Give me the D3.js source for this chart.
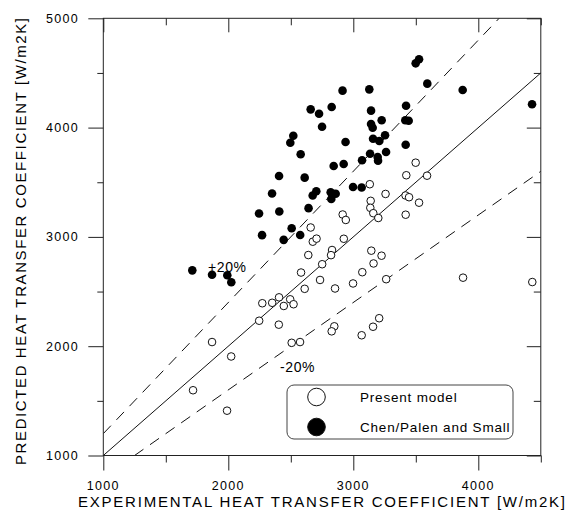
<!DOCTYPE html>
<html>
<head>
<meta charset="utf-8">
<script src="https://cdn.jsdelivr.net/npm/d3@7"></script>
<style>
  body { margin: 0; background: #fff; }
  text { font-family: "Liberation Sans", Arial, Helvetica, sans-serif; fill: #000; }
</style>
</head>
<body>
<svg id="chart" width="568" height="514"></svg>
<script>
// experimental vs predicted heat transfer coefficient [W/m2K]
var presentModel = [
  [3499, 3679], [3424, 3564], [3590, 3560], [3132, 3482], [3258, 3393], [3418, 3379],
  [3446, 3363], [3526, 3313], [3139, 3330], [3136, 3266], [3160, 3217], [3200, 3173],
  [3419, 3203], [2915, 3205], [2940, 3155], [2924, 2983], [2830, 2880], [2822, 2833],
  [2751, 2750], [3144, 2874], [3226, 2828], [3162, 2757], [3072, 2677], [2734, 2606],
  [2854, 2528], [2998, 2574], [3263, 2613], [3207, 2256], [3158, 2178], [3067, 2100],
  [3878, 2627], [4432, 2587], [2659, 3086], [2676, 2956], [2706, 2984], [2640, 2834],
  [2582, 2674], [2611, 2525], [2272, 2393], [2351, 2397], [2406, 2447], [2444, 2368],
  [2495, 2429], [2522, 2384], [2247, 2233], [2404, 2197], [2507, 2031], [2574, 2038],
  [2848, 2182], [2827, 2136], [1870, 2038], [2023, 1906], [1718, 1597], [1990, 1410]
];

var chenPalen = [
  [2914, 4338], [2659, 4167], [2726, 4127], [2827, 4188], [2750, 4008], [2520, 3926],
  [2496, 3862], [2938, 3868], [2579, 3756], [2843, 3649], [2923, 3667], [3070, 3701],
  [2406, 3557], [2611, 3542], [2350, 3397], [2704, 3418], [2675, 3379], [2819, 3408],
  [2859, 3395], [2824, 3347], [2998, 3457], [3067, 3452], [2246, 3214], [2408, 3232],
  [2642, 3263], [2507, 3079], [2270, 3016], [2575, 3017], [2443, 2973], [3128, 4350],
  [3526, 4625], [3499, 4588], [3592, 4402], [3875, 4344], [4430, 4213], [3142, 4155],
  [3227, 4067], [3422, 4200], [3416, 4067], [3443, 4063], [3142, 4033], [3155, 3999],
  [3158, 3898], [3208, 3877], [3254, 3930], [3419, 3843], [3134, 3761], [3195, 3731],
  [3198, 3697], [3262, 3777], [1712, 2694], [1870, 2654], [1992, 2649], [2024, 2585]
];

var xTicks = [1000, 2000, 3000, 4000];
var xMinor = [1500, 2500, 3500, 4500];
var yTicks = [1000, 2000, 3000, 4000, 5000];
var yMinor = [1500, 2500, 3500, 4500];

var bandFactors = [1, 1.2, 0.8];
var bandLabels = ["+20%", "-20%"];
var legendLabels = ["Present model", "Chen/Palen and Small"];

var svg = d3.select("#chart");

var padLeft = 103.3, padRight = 540.8, padTop = 18.3, padBottom = 455.5;

var x = d3.scaleLinear().domain([1000, 4500]).range([padLeft, padRight]);
var y = d3.scaleLinear().domain([1000, 5000]).range([padBottom, padTop]);

var plot = svg.append("g");

svg.append("clipPath").attr("id", "clip")
  .append("rect")
  .attr("x", padLeft).attr("y", padTop)
  .attr("width", padRight - padLeft).attr("height", padBottom - padTop);

// y = k*x reference lines
var lines = plot.append("g").attr("clip-path", "url(#clip)");
bandFactors.forEach(function(k, i) {
  lines.append("line")
    .attr("x1", x(1000)).attr("y1", y(1000 * k))
    .attr("x2", x(4500)).attr("y2", y(4500 * k))
    .attr("stroke", "#111")
    .attr("stroke-width", 1)
    .attr("stroke-dasharray", i == 0 ? null : "11,8");
});

// frame
var axisColor = "#222";
plot.append("rect")
  .attr("x", padLeft).attr("y", padTop)
  .attr("width", padRight - padLeft).attr("height", padBottom - padTop)
  .attr("fill", "none")
  .attr("stroke", axisColor)
  .attr("stroke-width", 1);

// ticks: outward on bottom/left, inward on top/right
var axes = [
  [d3.axisBottom(x).tickValues(xTicks).tickSize(15), 0, padBottom],
  [d3.axisBottom(x).tickValues(xMinor).tickSize(7), 0, padBottom],
  [d3.axisBottom(x).tickValues(xTicks).tickSize(14), 0, padTop],
  [d3.axisBottom(x).tickValues(xMinor).tickSize(7), 0, padTop],
  [d3.axisLeft(y).tickValues(yTicks).tickSize(15), padLeft, 0],
  [d3.axisLeft(y).tickValues(yMinor).tickSize(6), padLeft, 0],
  [d3.axisRight(y).tickValues(yTicks).tickSize(-14), padRight, 0],
  [d3.axisRight(y).tickValues(yMinor).tickSize(-7), padRight, 0]
];

axes.forEach(function(a) {
  var g = plot.append("g")
    .attr("transform", "translate(" + a[1] + "," + a[2] + ")")
    .call(a[0].tickFormat(""));
  g.select(".domain").remove();
  g.selectAll("line").attr("stroke", axisColor);
});

// top axis ticks go downward into the plot
plot.selectAll("g").filter(function() {
  return d3.select(this).attr("transform") == "translate(0," + padTop + ")";
}).selectAll(".tick line").attr("y2", function(d) { return xTicks.indexOf(d) >= 0 ? 14 : 7; });

// tick labels
plot.selectAll(".xlab")
  .data(xTicks)
  .enter().append("text")
  .attr("x", function(d) { return x(d); })
  .attr("y", 489.5)
  .attr("text-anchor", "middle")
  .attr("font-size", 12.5)
  .attr("letter-spacing", 1.3)
  .text(function(d) { return d; });

plot.selectAll(".ylab")
  .data(yTicks)
  .enter().append("text")
  .attr("x", 79)
  .attr("y", function(d) { return y(d) + 4.5; })
  .attr("text-anchor", "end")
  .attr("font-size", 12.5)
  .attr("letter-spacing", 1.3)
  .text(function(d) { return d; });

// axis titles
svg.append("text")
  .attr("x", 78).attr("y", 506.5)
  .attr("textLength", 487)
  .attr("lengthAdjust", "spacing")
  .attr("font-size", 15)
  .text("EXPERIMENTAL HEAT TRANSFER COEFFICIENT [W/m2K]");

svg.append("text")
  .attr("transform", "translate(26,465) rotate(-90)")
  .attr("textLength", 447)
  .attr("lengthAdjust", "spacing")
  .attr("font-size", 15)
  .text("PREDICTED HEAT TRANSFER COEFFICIENT [W/m2K]");

// band labels
svg.append("text").attr("x", 208).attr("y", 272).attr("font-size", 14).attr("letter-spacing", 0.6).text(bandLabels[0]);
svg.append("text").attr("x", 280).attr("y", 372).attr("font-size", 14).attr("letter-spacing", 0.6).text(bandLabels[1]);

// points
plot.selectAll(".open")
  .data(presentModel)
  .enter().append("circle")
  .attr("cx", function(d) { return x(d[0]); })
  .attr("cy", function(d) { return y(d[1]); })
  .attr("r", 3.8)
  .attr("fill", "#fff")
  .attr("stroke", "#111")
  .attr("stroke-width", 1);

plot.selectAll(".filled")
  .data(chenPalen)
  .enter().append("circle")
  .attr("cx", function(d) { return x(d[0]); })
  .attr("cy", function(d) { return y(d[1]); })
  .attr("r", 4.3)
  .attr("fill", "#000");

// legend
var legend = svg.append("g");
legend.append("rect")
  .attr("x", 287).attr("y", 385)
  .attr("width", 226).attr("height", 54)
  .attr("rx", 7)
  .attr("fill", "#fff")
  .attr("stroke", "#444")
  .attr("stroke-width", 1);

legendLabels.forEach(function(label, i) {
  legend.append("circle")
    .attr("cx", 316.5).attr("cy", 397 + i * 30)
    .attr("r", 8.8)
    .attr("fill", i == 0 ? "#fff" : "#000")
    .attr("stroke", "#111")
    .attr("stroke-width", 1);
  legend.append("text")
    .attr("x", 360).attr("y", 402 + i * 29.5)
    .attr("font-size", 13.5)
    .attr("letter-spacing", 0.8)
    .text(label);
});
</script>
</body>
</html>
